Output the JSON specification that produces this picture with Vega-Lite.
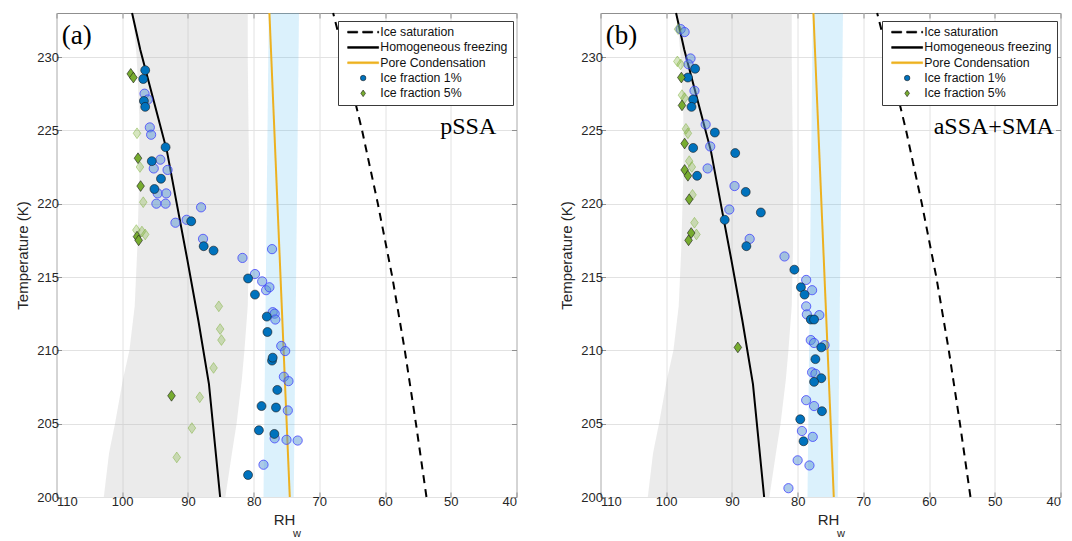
{
  "$schema": "https://vega.github.io/schema/vega-lite/v6.json",
  "padding": {"left": 14.5, "top": 8, "right": 5, "bottom": 0},
  "background": "white",
  "config": {
    "font": "Liberation Sans",
    "view": {"stroke": "#8f8f8f", "strokeWidth": 1},
    "axis": {
      "labelFont": "Liberation Sans",
      "labelFontSize": 13,
      "labelColor": "#262626",
      "titleFont": "Liberation Sans",
      "titleFontSize": 15,
      "titleFontWeight": "normal",
      "titleColor": "#262626",
      "tickColor": "#8f8f8f",
      "tickSize": -5,
      "gridColor": "#e2e2e2",
      "domain": false,
      "labelPadding": 3
    },
    "legend": {
      "symbolSize": 30,
      "symbolStrokeWidth": 0.6,
      "symbolOffset": 14,
      "labelOffset": 11,
      "rowPadding": 2.3,
      "padding": 5,
      "fillColor": "white",
      "strokeColor": "#3a3a3a",
      "labelFont": "Liberation Sans",
      "labelFontSize": 12.3,
      "labelColor": "#111111",
      "labelLimit": 300
    }
  },
  "datasets": {
    "greyBand": [
      {"T": 200, "left": 102.8, "right": 84.3},
      {"T": 203, "left": 102.0, "right": 83.3},
      {"T": 205, "left": 101.1, "right": 82.6},
      {"T": 208, "left": 99.9, "right": 81.8},
      {"T": 210, "left": 98.9, "right": 81.4},
      {"T": 213, "left": 98.1, "right": 80.9},
      {"T": 217, "left": 97.7, "right": 80.7},
      {"T": 222, "left": 97.4, "right": 80.7},
      {"T": 226, "left": 97.4, "right": 80.8},
      {"T": 230, "left": 97.8, "right": 80.9},
      {"T": 233, "left": 98.4, "right": 80.9}
    ],
    "poreBand": [
      {"T": 200, "left": 78.5, "right": 73.9},
      {"T": 233, "left": 77.7, "right": 73.1}
    ],
    "homFreezing": [
      {"T": 200, "RH": 85.1},
      {"T": 207.7, "RH": 86.8},
      {"T": 212, "RH": 88.4},
      {"T": 216.2, "RH": 90.1},
      {"T": 220, "RH": 91.7},
      {"T": 223.6, "RH": 93.2},
      {"T": 227, "RH": 95.2},
      {"T": 230.5, "RH": 97.25},
      {"T": 233, "RH": 98.5}
    ],
    "iceSat": [
      {"T": 200, "RH": 53.7},
      {"T": 205, "RH": 55.3},
      {"T": 210, "RH": 57.0},
      {"T": 215, "RH": 58.9},
      {"T": 220, "RH": 61.1},
      {"T": 225, "RH": 63.5},
      {"T": 230, "RH": 66.2},
      {"T": 233, "RH": 67.9}
    ],
    "poreCond": [
      {"T": 200, "RH": 74.5},
      {"T": 233, "RH": 77.6}
    ],
    "pointsA": [
      {"RH": 96.5, "T": 229.1, "fraction": "Ice fraction 1%", "subset": "main"},
      {"RH": 96.8, "T": 228.5, "fraction": "Ice fraction 1%", "subset": "main"},
      {"RH": 96.7, "T": 227.0, "fraction": "Ice fraction 1%", "subset": "main"},
      {"RH": 96.5, "T": 226.6, "fraction": "Ice fraction 1%", "subset": "main"},
      {"RH": 93.4, "T": 223.85, "fraction": "Ice fraction 1%", "subset": "main"},
      {"RH": 95.5, "T": 222.9, "fraction": "Ice fraction 1%", "subset": "main"},
      {"RH": 94.1, "T": 221.7, "fraction": "Ice fraction 1%", "subset": "main"},
      {"RH": 95.1, "T": 221.0, "fraction": "Ice fraction 1%", "subset": "main"},
      {"RH": 89.5, "T": 218.8, "fraction": "Ice fraction 1%", "subset": "main"},
      {"RH": 87.6, "T": 217.1, "fraction": "Ice fraction 1%", "subset": "main"},
      {"RH": 86.1, "T": 216.8, "fraction": "Ice fraction 1%", "subset": "main"},
      {"RH": 80.85, "T": 214.9, "fraction": "Ice fraction 1%", "subset": "main"},
      {"RH": 79.8, "T": 213.8, "fraction": "Ice fraction 1%", "subset": "main"},
      {"RH": 78.0, "T": 212.3, "fraction": "Ice fraction 1%", "subset": "main"},
      {"RH": 77.9, "T": 211.25, "fraction": "Ice fraction 1%", "subset": "main"},
      {"RH": 77.2, "T": 209.3, "fraction": "Ice fraction 1%", "subset": "main"},
      {"RH": 77.1, "T": 209.5, "fraction": "Ice fraction 1%", "subset": "main"},
      {"RH": 76.4, "T": 207.3, "fraction": "Ice fraction 1%", "subset": "main"},
      {"RH": 78.8, "T": 206.2, "fraction": "Ice fraction 1%", "subset": "main"},
      {"RH": 76.6, "T": 206.1, "fraction": "Ice fraction 1%", "subset": "main"},
      {"RH": 79.2, "T": 204.55, "fraction": "Ice fraction 1%", "subset": "main"},
      {"RH": 76.85, "T": 204.3, "fraction": "Ice fraction 1%", "subset": "main"},
      {"RH": 80.85, "T": 201.5, "fraction": "Ice fraction 1%", "subset": "main"},
      {"RH": 96.6, "T": 227.5, "fraction": "Ice fraction 1%", "subset": "aux"},
      {"RH": 96.1, "T": 227.1, "fraction": "Ice fraction 1%", "subset": "aux"},
      {"RH": 95.8, "T": 225.2, "fraction": "Ice fraction 1%", "subset": "aux"},
      {"RH": 95.6, "T": 224.7, "fraction": "Ice fraction 1%", "subset": "aux"},
      {"RH": 94.2, "T": 223.0, "fraction": "Ice fraction 1%", "subset": "aux"},
      {"RH": 95.2, "T": 222.4, "fraction": "Ice fraction 1%", "subset": "aux"},
      {"RH": 93.1, "T": 222.3, "fraction": "Ice fraction 1%", "subset": "aux"},
      {"RH": 94.6, "T": 220.7, "fraction": "Ice fraction 1%", "subset": "aux"},
      {"RH": 93.3, "T": 220.7, "fraction": "Ice fraction 1%", "subset": "aux"},
      {"RH": 94.8, "T": 220.0, "fraction": "Ice fraction 1%", "subset": "aux"},
      {"RH": 93.4, "T": 220.0, "fraction": "Ice fraction 1%", "subset": "aux"},
      {"RH": 88.0, "T": 219.75, "fraction": "Ice fraction 1%", "subset": "aux"},
      {"RH": 91.9, "T": 218.7, "fraction": "Ice fraction 1%", "subset": "aux"},
      {"RH": 90.2, "T": 218.9, "fraction": "Ice fraction 1%", "subset": "aux"},
      {"RH": 87.7, "T": 217.6, "fraction": "Ice fraction 1%", "subset": "aux"},
      {"RH": 81.7, "T": 216.3, "fraction": "Ice fraction 1%", "subset": "aux"},
      {"RH": 77.2, "T": 216.9, "fraction": "Ice fraction 1%", "subset": "aux"},
      {"RH": 79.8, "T": 215.2, "fraction": "Ice fraction 1%", "subset": "aux"},
      {"RH": 78.7, "T": 214.7, "fraction": "Ice fraction 1%", "subset": "aux"},
      {"RH": 78.1, "T": 214.1, "fraction": "Ice fraction 1%", "subset": "aux"},
      {"RH": 77.6, "T": 214.3, "fraction": "Ice fraction 1%", "subset": "aux"},
      {"RH": 77.1, "T": 212.6, "fraction": "Ice fraction 1%", "subset": "aux"},
      {"RH": 76.8, "T": 212.5, "fraction": "Ice fraction 1%", "subset": "aux"},
      {"RH": 76.7, "T": 212.1, "fraction": "Ice fraction 1%", "subset": "aux"},
      {"RH": 75.8, "T": 210.3, "fraction": "Ice fraction 1%", "subset": "aux"},
      {"RH": 75.2, "T": 209.95, "fraction": "Ice fraction 1%", "subset": "aux"},
      {"RH": 75.4, "T": 208.2, "fraction": "Ice fraction 1%", "subset": "aux"},
      {"RH": 74.7, "T": 207.9, "fraction": "Ice fraction 1%", "subset": "aux"},
      {"RH": 74.8, "T": 205.9, "fraction": "Ice fraction 1%", "subset": "aux"},
      {"RH": 76.8, "T": 204.0, "fraction": "Ice fraction 1%", "subset": "aux"},
      {"RH": 75.0, "T": 203.9, "fraction": "Ice fraction 1%", "subset": "aux"},
      {"RH": 73.3, "T": 203.85, "fraction": "Ice fraction 1%", "subset": "aux"},
      {"RH": 78.5, "T": 202.2, "fraction": "Ice fraction 1%", "subset": "aux"},
      {"RH": 98.7, "T": 228.85, "fraction": "Ice fraction 5%", "subset": "main"},
      {"RH": 98.3, "T": 228.6, "fraction": "Ice fraction 5%", "subset": "main"},
      {"RH": 97.6, "T": 223.1, "fraction": "Ice fraction 5%", "subset": "main"},
      {"RH": 97.2, "T": 221.2, "fraction": "Ice fraction 5%", "subset": "main"},
      {"RH": 97.75, "T": 217.75, "fraction": "Ice fraction 5%", "subset": "main"},
      {"RH": 97.5, "T": 217.5, "fraction": "Ice fraction 5%", "subset": "main"},
      {"RH": 92.5, "T": 206.9, "fraction": "Ice fraction 5%", "subset": "main"},
      {"RH": 97.75, "T": 224.8, "fraction": "Ice fraction 5%", "subset": "aux"},
      {"RH": 97.3, "T": 222.5, "fraction": "Ice fraction 5%", "subset": "aux"},
      {"RH": 96.8, "T": 220.1, "fraction": "Ice fraction 5%", "subset": "aux"},
      {"RH": 97.85, "T": 218.2, "fraction": "Ice fraction 5%", "subset": "aux"},
      {"RH": 97.0, "T": 218.1, "fraction": "Ice fraction 5%", "subset": "aux"},
      {"RH": 96.5, "T": 217.9, "fraction": "Ice fraction 5%", "subset": "aux"},
      {"RH": 85.3, "T": 213.0, "fraction": "Ice fraction 5%", "subset": "aux"},
      {"RH": 85.1, "T": 211.45, "fraction": "Ice fraction 5%", "subset": "aux"},
      {"RH": 84.9, "T": 210.7, "fraction": "Ice fraction 5%", "subset": "aux"},
      {"RH": 86.1, "T": 208.8, "fraction": "Ice fraction 5%", "subset": "aux"},
      {"RH": 88.2, "T": 206.8, "fraction": "Ice fraction 5%", "subset": "aux"},
      {"RH": 89.4, "T": 204.7, "fraction": "Ice fraction 5%", "subset": "aux"},
      {"RH": 91.7, "T": 202.7, "fraction": "Ice fraction 5%", "subset": "aux"}
    ],
    "pointsB": [
      {"RH": 95.6, "T": 229.2, "fraction": "Ice fraction 1%", "subset": "main"},
      {"RH": 96.7, "T": 228.6, "fraction": "Ice fraction 1%", "subset": "main"},
      {"RH": 95.9, "T": 227.1, "fraction": "Ice fraction 1%", "subset": "main"},
      {"RH": 96.15, "T": 226.6, "fraction": "Ice fraction 1%", "subset": "main"},
      {"RH": 92.6, "T": 224.85, "fraction": "Ice fraction 1%", "subset": "main"},
      {"RH": 95.9, "T": 223.8, "fraction": "Ice fraction 1%", "subset": "main"},
      {"RH": 89.5, "T": 223.45, "fraction": "Ice fraction 1%", "subset": "main"},
      {"RH": 95.3, "T": 221.9, "fraction": "Ice fraction 1%", "subset": "main"},
      {"RH": 87.9, "T": 220.8, "fraction": "Ice fraction 1%", "subset": "main"},
      {"RH": 85.6, "T": 219.4, "fraction": "Ice fraction 1%", "subset": "main"},
      {"RH": 91.1, "T": 218.9, "fraction": "Ice fraction 1%", "subset": "main"},
      {"RH": 87.8, "T": 217.1, "fraction": "Ice fraction 1%", "subset": "main"},
      {"RH": 80.5, "T": 215.5, "fraction": "Ice fraction 1%", "subset": "main"},
      {"RH": 79.5, "T": 214.3, "fraction": "Ice fraction 1%", "subset": "main"},
      {"RH": 78.95, "T": 213.8, "fraction": "Ice fraction 1%", "subset": "main"},
      {"RH": 78.0, "T": 212.1, "fraction": "Ice fraction 1%", "subset": "main"},
      {"RH": 77.5, "T": 212.1, "fraction": "Ice fraction 1%", "subset": "main"},
      {"RH": 76.4, "T": 210.2, "fraction": "Ice fraction 1%", "subset": "main"},
      {"RH": 77.3, "T": 209.4, "fraction": "Ice fraction 1%", "subset": "main"},
      {"RH": 76.4, "T": 208.1, "fraction": "Ice fraction 1%", "subset": "main"},
      {"RH": 77.5, "T": 207.85, "fraction": "Ice fraction 1%", "subset": "main"},
      {"RH": 76.3, "T": 205.85, "fraction": "Ice fraction 1%", "subset": "main"},
      {"RH": 79.6, "T": 205.3, "fraction": "Ice fraction 1%", "subset": "main"},
      {"RH": 79.1, "T": 203.8, "fraction": "Ice fraction 1%", "subset": "main"},
      {"RH": 97.8, "T": 231.9, "fraction": "Ice fraction 1%", "subset": "aux"},
      {"RH": 97.2, "T": 231.7, "fraction": "Ice fraction 1%", "subset": "aux"},
      {"RH": 96.3, "T": 229.9, "fraction": "Ice fraction 1%", "subset": "aux"},
      {"RH": 96.6, "T": 229.5, "fraction": "Ice fraction 1%", "subset": "aux"},
      {"RH": 95.7, "T": 227.7, "fraction": "Ice fraction 1%", "subset": "aux"},
      {"RH": 94.0, "T": 225.4, "fraction": "Ice fraction 1%", "subset": "aux"},
      {"RH": 93.3, "T": 223.9, "fraction": "Ice fraction 1%", "subset": "aux"},
      {"RH": 93.7, "T": 222.4, "fraction": "Ice fraction 1%", "subset": "aux"},
      {"RH": 89.6, "T": 221.2, "fraction": "Ice fraction 1%", "subset": "aux"},
      {"RH": 90.4, "T": 219.6, "fraction": "Ice fraction 1%", "subset": "aux"},
      {"RH": 87.3, "T": 217.6, "fraction": "Ice fraction 1%", "subset": "aux"},
      {"RH": 82.0, "T": 216.4, "fraction": "Ice fraction 1%", "subset": "aux"},
      {"RH": 78.7, "T": 214.8, "fraction": "Ice fraction 1%", "subset": "aux"},
      {"RH": 77.8, "T": 214.1, "fraction": "Ice fraction 1%", "subset": "aux"},
      {"RH": 78.7, "T": 213.0, "fraction": "Ice fraction 1%", "subset": "aux"},
      {"RH": 78.6, "T": 212.45, "fraction": "Ice fraction 1%", "subset": "aux"},
      {"RH": 76.7, "T": 212.4, "fraction": "Ice fraction 1%", "subset": "aux"},
      {"RH": 78.0, "T": 210.7, "fraction": "Ice fraction 1%", "subset": "aux"},
      {"RH": 77.5, "T": 210.5, "fraction": "Ice fraction 1%", "subset": "aux"},
      {"RH": 75.9, "T": 210.35, "fraction": "Ice fraction 1%", "subset": "aux"},
      {"RH": 77.8, "T": 208.5, "fraction": "Ice fraction 1%", "subset": "aux"},
      {"RH": 77.3, "T": 208.4, "fraction": "Ice fraction 1%", "subset": "aux"},
      {"RH": 78.7, "T": 206.6, "fraction": "Ice fraction 1%", "subset": "aux"},
      {"RH": 77.5, "T": 206.2, "fraction": "Ice fraction 1%", "subset": "aux"},
      {"RH": 79.35, "T": 204.5, "fraction": "Ice fraction 1%", "subset": "aux"},
      {"RH": 77.7, "T": 204.1, "fraction": "Ice fraction 1%", "subset": "aux"},
      {"RH": 80.0, "T": 202.5, "fraction": "Ice fraction 1%", "subset": "aux"},
      {"RH": 78.2, "T": 202.15, "fraction": "Ice fraction 1%", "subset": "aux"},
      {"RH": 81.4, "T": 200.6, "fraction": "Ice fraction 1%", "subset": "aux"},
      {"RH": 97.7, "T": 228.6, "fraction": "Ice fraction 5%", "subset": "main"},
      {"RH": 97.6, "T": 226.7, "fraction": "Ice fraction 5%", "subset": "main"},
      {"RH": 97.2, "T": 224.1, "fraction": "Ice fraction 5%", "subset": "main"},
      {"RH": 97.2, "T": 222.3, "fraction": "Ice fraction 5%", "subset": "main"},
      {"RH": 96.7, "T": 221.9, "fraction": "Ice fraction 5%", "subset": "main"},
      {"RH": 96.5, "T": 220.3, "fraction": "Ice fraction 5%", "subset": "main"},
      {"RH": 96.2, "T": 218.0, "fraction": "Ice fraction 5%", "subset": "main"},
      {"RH": 96.6, "T": 217.5, "fraction": "Ice fraction 5%", "subset": "main"},
      {"RH": 89.1, "T": 210.2, "fraction": "Ice fraction 5%", "subset": "main"},
      {"RH": 98.2, "T": 231.9, "fraction": "Ice fraction 5%", "subset": "aux"},
      {"RH": 98.3, "T": 229.7, "fraction": "Ice fraction 5%", "subset": "aux"},
      {"RH": 97.8, "T": 229.5, "fraction": "Ice fraction 5%", "subset": "aux"},
      {"RH": 97.6, "T": 227.4, "fraction": "Ice fraction 5%", "subset": "aux"},
      {"RH": 97.2, "T": 227.2, "fraction": "Ice fraction 5%", "subset": "aux"},
      {"RH": 97.0, "T": 225.1, "fraction": "Ice fraction 5%", "subset": "aux"},
      {"RH": 96.7, "T": 224.8, "fraction": "Ice fraction 5%", "subset": "aux"},
      {"RH": 96.5, "T": 222.9, "fraction": "Ice fraction 5%", "subset": "aux"},
      {"RH": 96.1, "T": 222.5, "fraction": "Ice fraction 5%", "subset": "aux"},
      {"RH": 96.0, "T": 220.6, "fraction": "Ice fraction 5%", "subset": "aux"},
      {"RH": 95.7, "T": 218.7, "fraction": "Ice fraction 5%", "subset": "aux"},
      {"RH": 95.4, "T": 217.9, "fraction": "Ice fraction 5%", "subset": "aux"}
    ]
  },
  "spacing": 41,
  "resolve": {
    "scale": {"color": "independent", "shape": "independent", "stroke": "independent"},
    "legend": {"color": "independent", "shape": "independent", "stroke": "independent"}
  },
  "hconcat": [
    {
      "width": 460,
      "height": 484,
      "resolve": {"axis": {"x": "independent", "y": "independent"}},
      "layer": [
        {
          "data": {"name": "greyBand"},
          "mark": {"type": "area", "orient": "horizontal", "fill": "#b4b4b4", "opacity": 0.27},
          "encoding": {
            "y": {"field": "T", "type": "quantitative", "scale": {"domain": [200, 233], "nice": false, "zero": false},
                  "axis": {"orient": "left", "values": [200, 205, 210, 215, 220, 225, 230], "title": "Temperature (K)", "grid": true, "titlePadding": 6}},
            "x": {"field": "left", "type": "quantitative", "scale": {"domain": [40, 110], "reverse": true, "nice": false, "zero": false},
                  "axis": {"orient": "bottom", "values": [40, 50, 60, 70, 80, 90, 100, 110], "title": "RH", "titleX": 227.5, "grid": true, "titlePadding": 4}},
            "x2": {"field": "right"}
          }
        },
        {
          "data": {"name": "poreBand"},
          "mark": {"type": "area", "orient": "horizontal", "fill": "#4db8f0", "opacity": 0.2},
          "encoding": {
            "y": {"field": "T", "type": "quantitative",
                  "axis": {"orient": "right", "values": [200, 205, 210, 215, 220, 225, 230], "labels": false, "title": null, "grid": false}},
            "x": {"field": "left", "type": "quantitative",
                  "axis": {"orient": "top", "values": [40, 50, 60, 70, 80, 90, 100, 110], "labels": false, "title": null, "grid": false}},
            "x2": {"field": "right"}
          }
        },
        {
          "data": {"name": "iceSat"},
          "mark": {"type": "line", "color": "#000000", "strokeWidth": 2, "strokeDash": [8, 6]},
          "encoding": {
            "x": {"field": "RH", "type": "quantitative", "axis": null},
            "y": {"field": "T", "type": "quantitative", "axis": null},
            "order": {"field": "T"}
          }
        },
        {
          "data": {"name": "homFreezing"},
          "mark": {"type": "line", "color": "#000000", "strokeWidth": 2},
          "encoding": {
            "x": {"field": "RH", "type": "quantitative", "axis": null},
            "y": {"field": "T", "type": "quantitative", "axis": null},
            "order": {"field": "T"}
          }
        },
        {
          "data": {"name": "poreCond"},
          "mark": {"type": "line", "color": "#EDB120", "strokeWidth": 2},
          "encoding": {
            "x": {"field": "RH", "type": "quantitative", "axis": null},
            "y": {"field": "T", "type": "quantitative", "axis": null},
            "order": {"field": "T"}
          }
        },
        {
          "data": {"name": "pointsA"},
          "transform": [{"filter": "datum.subset === 'aux' && datum.fraction === 'Ice fraction 1%'"}],
          "mark": {"type": "point", "shape": "circle", "filled": true, "size": 85, "opacity": 1, "fill": "#5a96d2", "fillOpacity": 0.5, "stroke": "#3c3cff", "strokeOpacity": 0.75, "strokeWidth": 1},
          "encoding": {
            "x": {"field": "RH", "type": "quantitative", "axis": null},
            "y": {"field": "T", "type": "quantitative", "axis": null}
          }
        },
        {
          "data": {"name": "pointsA"},
          "transform": [{"filter": "datum.subset === 'aux' && datum.fraction === 'Ice fraction 5%'"}],
          "mark": {"type": "point", "shape": "M0,-1.2L0.85,0L0,1.2L-0.85,0Z", "filled": true, "size": 80, "opacity": 1, "fill": "#77AC30", "fillOpacity": 0.3, "stroke": "#77AC30", "strokeOpacity": 0.45, "strokeWidth": 1},
          "encoding": {
            "x": {"field": "RH", "type": "quantitative", "axis": null},
            "y": {"field": "T", "type": "quantitative", "axis": null}
          }
        },
        {
          "data": {"name": "pointsA"},
          "transform": [{"filter": "datum.subset === 'main'"}],
          "mark": {"type": "point", "filled": true, "size": 80, "opacity": 1, "strokeWidth": 0.6},
          "encoding": {
            "x": {"field": "RH", "type": "quantitative", "axis": null},
            "y": {"field": "T", "type": "quantitative", "axis": null},
            "color": {
              "field": "fraction", "type": "nominal",
              "scale": {"domain": ["Ice saturation", "Homogeneous freezing", "Pore Condensation", "Ice fraction 1%", "Ice fraction 5%"],
                        "range": ["#000000", "#000000", "#EDB120", "#0072BD", "#77AC30"]},
              "legend": {"title": null, "orient": "none", "legendX": 281.5, "legendY": 8}
            },
            "stroke": {
              "field": "fraction", "type": "nominal",
              "scale": {"domain": ["Ice saturation", "Homogeneous freezing", "Pore Condensation", "Ice fraction 1%", "Ice fraction 5%"],
                        "range": ["#000000", "#000000", "#EDB120", "#1a1a1a", "#1a1a1a"]},
              "legend": {"title": null, "orient": "none", "legendX": 281.5, "legendY": 8}
            },
            "shape": {
              "field": "fraction", "type": "nominal",
              "scale": {"domain": ["Ice saturation", "Homogeneous freezing", "Pore Condensation", "Ice fraction 1%", "Ice fraction 5%"],
                        "range": ["M-5.66,-0.33H-2V0.33H-5.66ZM-0.18,-0.33H3.47V0.33H-0.18ZM5.3,-0.33H5.66V0.33H5.3Z", "M-5.66,-0.33H5.66V0.33H-5.66Z", "M-5.66,-0.33H5.66V0.33H-5.66Z", "circle", "M0,-1.2L0.85,0L0,1.2L-0.85,0Z"]},
              "legend": {"title": null, "orient": "none", "legendX": 281.5, "legendY": 8}
            }
          }
        },
        {
          "data": {"values": [{}]},
          "mark": {"type": "text", "text": "(a)", "font": "Liberation Serif", "fontSize": 27, "align": "left", "baseline": "middle", "color": "#000000"},
          "encoding": {
            "x": {"datum": 109.2, "type": "quantitative", "axis": null},
            "y": {"datum": 231.4, "type": "quantitative", "axis": null}
          }
        },
        {
          "data": {"values": [{}]},
          "mark": {"type": "text", "text": "pSSA", "font": "Liberation Serif", "fontSize": 24, "align": "left", "baseline": "middle", "color": "#000000"},
          "encoding": {
            "x": {"datum": 51.6, "type": "quantitative", "axis": null},
            "y": {"datum": 225.2, "type": "quantitative", "axis": null}
          }
        },
        {
          "data": {"values": [{}]},
          "mark": {"type": "text", "text": "w", "font": "Liberation Sans", "fontSize": 11, "align": "left", "baseline": "top", "dy": 31, "color": "#262626"},
          "encoding": {
            "x": {"datum": 74.0, "type": "quantitative", "axis": null},
            "y": {"datum": 200, "type": "quantitative", "axis": null}
          }
        }
      ]
    },
    {
      "width": 460,
      "height": 484,
      "resolve": {"axis": {"x": "independent", "y": "independent"}},
      "layer": [
        {
          "data": {"name": "greyBand"},
          "mark": {"type": "area", "orient": "horizontal", "fill": "#b4b4b4", "opacity": 0.27},
          "encoding": {
            "y": {"field": "T", "type": "quantitative", "scale": {"domain": [200, 233], "nice": false, "zero": false},
                  "axis": {"orient": "left", "values": [200, 205, 210, 215, 220, 225, 230], "title": "Temperature (K)", "grid": true, "titlePadding": 6}},
            "x": {"field": "left", "type": "quantitative", "scale": {"domain": [40, 110], "reverse": true, "nice": false, "zero": false},
                  "axis": {"orient": "bottom", "values": [40, 50, 60, 70, 80, 90, 100, 110], "title": "RH", "titleX": 227.5, "grid": true, "titlePadding": 4}},
            "x2": {"field": "right"}
          }
        },
        {
          "data": {"name": "poreBand"},
          "mark": {"type": "area", "orient": "horizontal", "fill": "#4db8f0", "opacity": 0.2},
          "encoding": {
            "y": {"field": "T", "type": "quantitative",
                  "axis": {"orient": "right", "values": [200, 205, 210, 215, 220, 225, 230], "labels": false, "title": null, "grid": false}},
            "x": {"field": "left", "type": "quantitative",
                  "axis": {"orient": "top", "values": [40, 50, 60, 70, 80, 90, 100, 110], "labels": false, "title": null, "grid": false}},
            "x2": {"field": "right"}
          }
        },
        {
          "data": {"name": "iceSat"},
          "mark": {"type": "line", "color": "#000000", "strokeWidth": 2, "strokeDash": [8, 6]},
          "encoding": {
            "x": {"field": "RH", "type": "quantitative", "axis": null},
            "y": {"field": "T", "type": "quantitative", "axis": null},
            "order": {"field": "T"}
          }
        },
        {
          "data": {"name": "homFreezing"},
          "mark": {"type": "line", "color": "#000000", "strokeWidth": 2},
          "encoding": {
            "x": {"field": "RH", "type": "quantitative", "axis": null},
            "y": {"field": "T", "type": "quantitative", "axis": null},
            "order": {"field": "T"}
          }
        },
        {
          "data": {"name": "poreCond"},
          "mark": {"type": "line", "color": "#EDB120", "strokeWidth": 2},
          "encoding": {
            "x": {"field": "RH", "type": "quantitative", "axis": null},
            "y": {"field": "T", "type": "quantitative", "axis": null},
            "order": {"field": "T"}
          }
        },
        {
          "data": {"name": "pointsB"},
          "transform": [{"filter": "datum.subset === 'aux' && datum.fraction === 'Ice fraction 1%'"}],
          "mark": {"type": "point", "shape": "circle", "filled": true, "size": 85, "opacity": 1, "fill": "#5a96d2", "fillOpacity": 0.5, "stroke": "#3c3cff", "strokeOpacity": 0.75, "strokeWidth": 1},
          "encoding": {
            "x": {"field": "RH", "type": "quantitative", "axis": null},
            "y": {"field": "T", "type": "quantitative", "axis": null}
          }
        },
        {
          "data": {"name": "pointsB"},
          "transform": [{"filter": "datum.subset === 'aux' && datum.fraction === 'Ice fraction 5%'"}],
          "mark": {"type": "point", "shape": "M0,-1.2L0.85,0L0,1.2L-0.85,0Z", "filled": true, "size": 80, "opacity": 1, "fill": "#77AC30", "fillOpacity": 0.3, "stroke": "#77AC30", "strokeOpacity": 0.45, "strokeWidth": 1},
          "encoding": {
            "x": {"field": "RH", "type": "quantitative", "axis": null},
            "y": {"field": "T", "type": "quantitative", "axis": null}
          }
        },
        {
          "data": {"name": "pointsB"},
          "transform": [{"filter": "datum.subset === 'main'"}],
          "mark": {"type": "point", "filled": true, "size": 80, "opacity": 1, "strokeWidth": 0.6},
          "encoding": {
            "x": {"field": "RH", "type": "quantitative", "axis": null},
            "y": {"field": "T", "type": "quantitative", "axis": null},
            "color": {
              "field": "fraction", "type": "nominal",
              "scale": {"domain": ["Ice saturation", "Homogeneous freezing", "Pore Condensation", "Ice fraction 1%", "Ice fraction 5%"],
                        "range": ["#000000", "#000000", "#EDB120", "#0072BD", "#77AC30"]},
              "legend": {"title": null, "orient": "none", "legendX": 281.5, "legendY": 8}
            },
            "stroke": {
              "field": "fraction", "type": "nominal",
              "scale": {"domain": ["Ice saturation", "Homogeneous freezing", "Pore Condensation", "Ice fraction 1%", "Ice fraction 5%"],
                        "range": ["#000000", "#000000", "#EDB120", "#1a1a1a", "#1a1a1a"]},
              "legend": {"title": null, "orient": "none", "legendX": 281.5, "legendY": 8}
            },
            "shape": {
              "field": "fraction", "type": "nominal",
              "scale": {"domain": ["Ice saturation", "Homogeneous freezing", "Pore Condensation", "Ice fraction 1%", "Ice fraction 5%"],
                        "range": ["M-5.66,-0.33H-2V0.33H-5.66ZM-0.18,-0.33H3.47V0.33H-0.18ZM5.3,-0.33H5.66V0.33H5.3Z", "M-5.66,-0.33H5.66V0.33H-5.66Z", "M-5.66,-0.33H5.66V0.33H-5.66Z", "circle", "M0,-1.2L0.85,0L0,1.2L-0.85,0Z"]},
              "legend": {"title": null, "orient": "none", "legendX": 281.5, "legendY": 8}
            }
          }
        },
        {
          "data": {"values": [{}]},
          "mark": {"type": "text", "text": "(b)", "font": "Liberation Serif", "fontSize": 27, "align": "left", "baseline": "middle", "color": "#000000"},
          "encoding": {
            "x": {"datum": 109.2, "type": "quantitative", "axis": null},
            "y": {"datum": 231.4, "type": "quantitative", "axis": null}
          }
        },
        {
          "data": {"values": [{}]},
          "mark": {"type": "text", "text": "aSSA+SMA", "font": "Liberation Serif", "fontSize": 24, "align": "left", "baseline": "middle", "color": "#000000"},
          "encoding": {
            "x": {"datum": 59.3, "type": "quantitative", "axis": null},
            "y": {"datum": 225.2, "type": "quantitative", "axis": null}
          }
        },
        {
          "data": {"values": [{}]},
          "mark": {"type": "text", "text": "w", "font": "Liberation Sans", "fontSize": 11, "align": "left", "baseline": "top", "dy": 31, "color": "#262626"},
          "encoding": {
            "x": {"datum": 74.0, "type": "quantitative", "axis": null},
            "y": {"datum": 200, "type": "quantitative", "axis": null}
          }
        }
      ]
    }
  ]
}
